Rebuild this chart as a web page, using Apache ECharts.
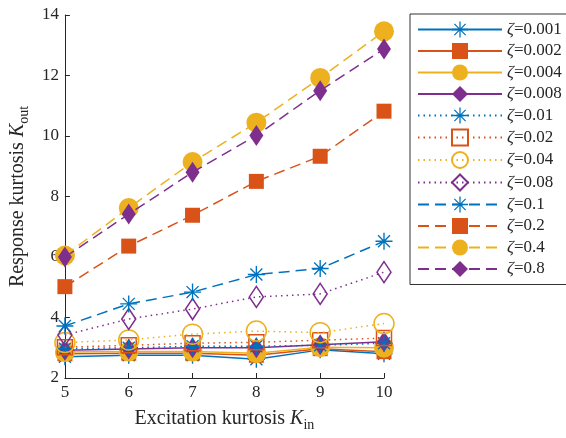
<!DOCTYPE html>
<html>
<head>
<meta charset="utf-8">
<script src="https://cdn.jsdelivr.net/npm/echarts@6/dist/echarts.min.js"></script>
<style>
  html, body { margin: 0; padding: 0; background: #fff; }
  #chart { width: 566px; height: 438px; }
</style>
</head>
<body>
<div id="chart"></div>
<script>
// Excitation kurtosis values on the x axis
const kIn = [5, 6, 7, 8, 9, 10];

// Damping ratios, one curve each
const zetaLabels = ['0.001', '0.002', '0.004', '0.008', '0.01', '0.02', '0.04', '0.08', '0.1', '0.2', '0.4', '0.8'];

// Response kurtosis per damping ratio
const kOut_0001 = [2.70, 2.75, 2.75, 2.62, 2.93, 2.80];
const kOut_0002 = [2.80, 2.82, 2.82, 2.75, 2.97, 2.87];
const kOut_0004 = [2.86, 2.88, 2.88, 2.82, 3.02, 3.00];
const kOut_0008 = [2.92, 2.96, 3.00, 3.00, 3.10, 3.20];
const kOut_001  = [2.97, 3.00, 3.05, 3.05, 3.08, 3.15];
const kOut_002  = [3.02, 3.08, 3.15, 3.18, 3.25, 3.32];
const kOut_004  = [3.17, 3.26, 3.45, 3.55, 3.50, 3.80];
const kOut_008  = [3.42, 3.95, 4.28, 4.68, 4.78, 5.50];
const kOut_01   = [3.72, 4.45, 4.84, 5.42, 5.62, 6.52];
const kOut_02   = [5.02, 6.36, 7.38, 8.50, 9.33, 10.82];
const kOut_04   = [6.05, 7.62, 9.14, 10.44, 11.92, 13.46];
const kOut_08   = [6.00, 7.42, 8.80, 10.02, 11.50, 12.88];

// Y-axis ticks
const yMin = 2, yMax = 14, yStep = 2;

const allValues = [kOut_0001, kOut_0002, kOut_0004, kOut_0008, kOut_001, kOut_002,
                   kOut_004, kOut_008, kOut_01, kOut_02, kOut_04, kOut_08];

const blue = '#0072BD', orange = '#D95319', yellow = '#EDB120', purple = '#7E2F8E';
const colors = [blue, orange, yellow, purple];

// eight-armed asterisk built from thin bars
const asterisk = 'path://M-0.8,-10L0.8,-10L0.8,10L-0.8,10Z M-10,-0.8L10,-0.8L10,0.8L-10,0.8Z ' +
  'M-7.6,-6.5L-6.5,-7.6L7.6,6.5L6.5,7.6Z M6.5,-7.6L7.6,-6.5L-6.5,7.6L-7.6,6.5Z';
// tall diamond (width : height = 2 : 3)
const tallDiamond = 'path://M0,-15L10,0L0,15L-10,0Z';

const symbols = [asterisk, 'rect', 'circle', tallDiamond];
const symbolSizes = [17, 15, 20, 21];

const series = allValues.map((vals, i) => {
  const group = Math.floor(i / 4);
  const k = i % 4;
  const hollow = group === 1;
  const lineType = group === 0 ? 'solid' : group === 1 ? [1.5, 4] : [11, 6];
  return {
    name: 'ζ=' + zetaLabels[i],
    type: 'line',
    data: kIn.map((x, j) => [x, vals[j]]),
    symbol: symbols[k],
    symbolSize: symbolSizes[k],
    symbolKeepAspect: true,
    showAllSymbol: true,
    lineStyle: { color: colors[k], width: 1.5, type: lineType },
    itemStyle: hollow && k > 0
      ? { color: 'rgba(255,255,255,0)', borderColor: colors[k], borderWidth: 1.5 }
      : { color: colors[k], borderWidth: 0 },
    emphasis: { disabled: true },
    animation: false,
    z: 2 + i
  };
});

const chart = echarts.init(document.getElementById('chart'), null, { renderer: 'canvas' });
const serif = 'Liberation Serif, Times New Roman, serif';
const axisColor = '#262626';

const nameRich = {
  t: { fontFamily: serif, fontSize: 20, color: axisColor },
  k: { fontFamily: serif, fontSize: 20, fontStyle: 'italic', color: axisColor },
  s: { fontFamily: serif, fontSize: 14, color: axisColor, verticalAlign: 'bottom', padding: [12, 0, 0, 0] }
};

chart.setOption({
  backgroundColor: '#fff',
  animation: false,
  textStyle: { fontFamily: serif },
  grid: { left: 62, top: 15, width: 322, height: 363, containLabel: false },
  xAxis: {
    type: 'value', min: 5, max: 10, interval: 1,
    name: '{t|Excitation kurtosis }{k|K}{s|in}',
    nameLocation: 'middle', nameGap: 28,
    nameTextStyle: { rich: nameRich },
    axisLine: { show: true, lineStyle: { color: axisColor, width: 1 } },
    axisTick: { show: true, inside: true, length: 5, lineStyle: { color: axisColor } },
    axisLabel: { fontFamily: serif, fontSize: 17, color: axisColor, margin: 6 },
    splitLine: { show: false }
  },
  yAxis: {
    type: 'value', min: yMin, max: yMax, interval: yStep,
    name: '{t|Response kurtosis }{k|K}{s|out}',
    nameLocation: 'middle', nameGap: 32,
    nameTextStyle: { rich: nameRich },
    axisLine: { show: true, lineStyle: { color: axisColor, width: 1 } },
    axisTick: { show: true, inside: true, length: 5, lineStyle: { color: axisColor } },
    axisLabel: { fontFamily: serif, fontSize: 17, color: axisColor, margin: 6 },
    splitLine: { show: false }
  },
  legend: {
    orient: 'vertical',
    left: 410, top: 14,
    padding: [7, 8, 7, 7],
    itemWidth: 84, itemHeight: 20, itemGap: 4.5,
    borderColor: '#333', borderWidth: 1,
    backgroundColor: '#fff',
    selectedMode: false,
    formatter: name => '{z|ζ}' + name.slice(1),
    textStyle: {
      fontFamily: serif, fontSize: 17, color: axisColor,
      rich: { z: { fontFamily: serif, fontSize: 17, fontStyle: 'italic', color: axisColor } }
    },
    data: series.map(s => s.name)
  },
  series: series
});
</script>
</body>
</html>
